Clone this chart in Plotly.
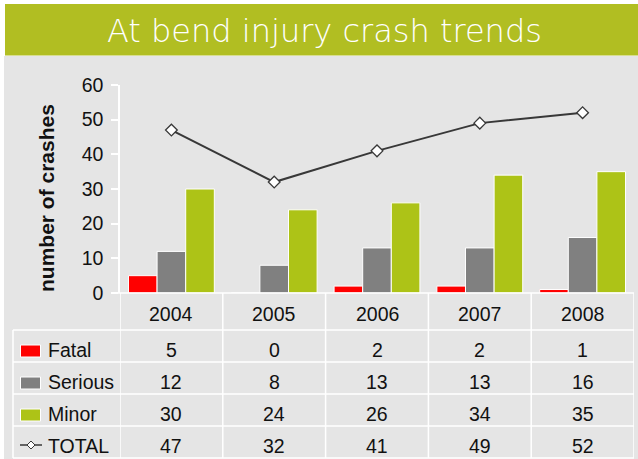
import plotly.graph_objects as go

# ---- data ----
years = ["2004", "2005", "2006", "2007", "2008"]
fatal = [5, 0, 2, 2, 1]
serious = [12, 8, 13, 13, 16]
minor = [30, 24, 26, 34, 35]
total = [47, 32, 41, 49, 52]
series_names = ["Fatal", "Serious", "Minor", "TOTAL"]
y_ticks = [0, 10, 20, 30, 40, 50, 60]

# ---- style ----
W, H = 638, 459
RED = "#FF0000"
GREY = "#808080"
GREEN = "#ADC317"
BANNER = "#B1BE22"
BG = "#E5E5E5"
LINE = "#383838"
FONT = "Liberation Sans, Arial, sans-serif"

def px(x):
    return x / W

def py(y):
    return 1 - y / H

x_idx = list(range(len(years)))

fig = go.Figure()
for vals, col, name in [(fatal, RED, "Fatal"), (serious, GREY, "Serious"), (minor, GREEN, "Minor")]:
    fig.add_trace(go.Bar(x=x_idx, y=vals, name=name, marker=dict(color=col, line=dict(color="white", width=1)),
                         showlegend=False, hoverinfo="skip"))
fig.add_trace(go.Scatter(x=x_idx, y=total, mode="lines+markers", name="TOTAL", showlegend=False,
                         line=dict(color=LINE, width=2),
                         marker=dict(symbol="diamond", size=9, color="white", line=dict(color=LINE, width=1.3))))

shapes = []
# background & banner
shapes.append(dict(type="rect", xref="paper", yref="paper", x0=px(4), x1=1, y0=0, y1=py(56),
                   fillcolor=BG, line=dict(width=0), layer="below"))
shapes.append(dict(type="rect", xref="paper", yref="paper", x0=px(5), x1=1, y0=py(55.5), y1=py(4),
                   fillcolor=BANNER, line=dict(width=0), layer="below"))

WL = dict(color="white", width=1.5)
# table horizontal lines
shapes.append(dict(type="line", xref="paper", yref="paper", x0=px(113), x1=px(634), y0=py(293), y1=py(293), line=WL))
for yy in [330, 362, 394, 426, 458]:
    shapes.append(dict(type="line", xref="paper", yref="paper", x0=px(13), x1=px(634), y0=py(yy), y1=py(yy), line=WL))
# table vertical lines at category boundaries
for i in range(len(years) + 1):
    shapes.append(dict(type="line", xref="x", yref="paper", x0=i - 0.5, x1=i - 0.5, y0=py(458), y1=py(293), line=WL))
shapes.append(dict(type="line", xref="paper", yref="paper", x0=px(13), x1=px(13), y0=py(458), y1=py(330), line=WL))

# legend keys
row_centers = [346, 378, 410, 442]
for col, yc in zip([RED, GREY, GREEN], row_centers[:3]):
    shapes.append(dict(type="rect", xref="paper", yref="paper", x0=px(20.5), x1=px(40.5),
                       y0=py(yc + 11), y1=py(yc - 1), fillcolor=col, line=dict(color="white", width=1)))
ly = row_centers[3] + 3
shapes.append(dict(type="line", xref="paper", yref="paper", x0=px(20), x1=px(42), y0=py(ly), y1=py(ly),
                   line=dict(color=LINE, width=1.5)))
d = 4
shapes.append(dict(type="path", xref="paper", yref="paper",
                   path=f"M {px(31-d)} {py(ly)} L {px(31)} {py(ly-d)} L {px(31+d)} {py(ly)} L {px(31)} {py(ly+d)} Z",
                   fillcolor="white", line=dict(color=LINE, width=1)))

annotations = []
# title
annotations.append(dict(text="At bend injury crash trends", xref="paper", yref="paper", x=px(324.5), y=py(31),
                        showarrow=False,
                        font=dict(family="DejaVu Sans, Verdana, sans-serif", size=32, color="white", weight=200),
                        xanchor="center", yanchor="middle"))
# y-axis title
annotations.append(dict(text="<b>number of crashes</b>", xref="paper", yref="paper", x=px(46), y=py(198),
                        showarrow=False, textangle=-90, font=dict(family=FONT, size=21, color="#111111"),
                        xanchor="center", yanchor="middle"))
TF = dict(family=FONT, size=19.5, color="#111111")
# header years
for i, yr in enumerate(years):
    annotations.append(dict(text=yr, xref="x", yref="paper", x=i, y=py(313.5), showarrow=False, font=TF,
                            xanchor="center", yanchor="middle"))
# values
for r, (vals, yc) in enumerate(zip([fatal, serious, minor, total], row_centers)):
    for i, v in enumerate(vals):
        annotations.append(dict(text=str(v), xref="x", yref="paper", x=i, y=py(yc + 4), showarrow=False, font=TF,
                                xanchor="center", yanchor="middle"))
    annotations.append(dict(text=series_names[r], xref="paper", yref="paper", x=px(46), y=py(yc + 4),
                            showarrow=False, font=TF, xanchor="left", yanchor="middle"))

fig.update_layout(
    width=W, height=H, autosize=False,
    margin=dict(l=0, r=0, t=0, b=0, pad=0, autoexpand=False),
    paper_bgcolor="white", plot_bgcolor="rgba(0,0,0,0)",
    barmode="group", bargap=0.165, bargroupgap=0,
    shapes=shapes, annotations=annotations,
    xaxis=dict(domain=[px(120), px(634)], range=[-0.5, 4.5], showticklabels=False, showgrid=False,
               zeroline=False, showline=False, ticks="", fixedrange=True, automargin=False),
    yaxis=dict(domain=[py(293), py(85)], range=[0, 60], tickvals=y_ticks, showgrid=False, zeroline=False,
               showline=True, linecolor="white", linewidth=1.5, ticks="outside", ticklen=7,
               tickcolor="white", tickwidth=1.5, tickfont=dict(family=FONT, size=19.5, color="#111111"),
               ticklabelstandoff=4, fixedrange=True, automargin=False),
    font=dict(family=FONT),
)

fig.write_html("out.html", config={"responsive": False, "displayModeBar": False},
               post_script="document.body.style.margin='0';document.body.style.overflow='hidden';")
